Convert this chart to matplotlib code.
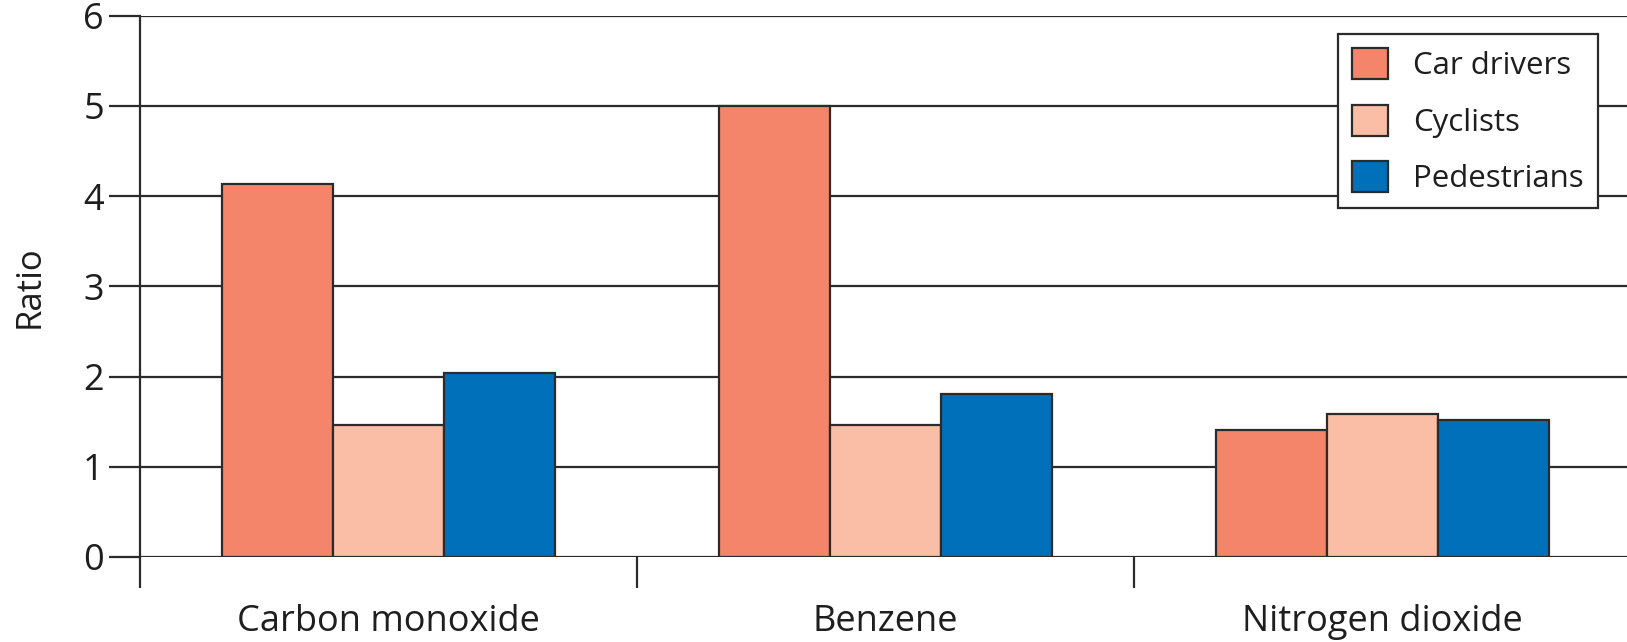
import matplotlib
matplotlib.use("Agg")
import matplotlib.pyplot as plt
import numpy as np

categories = ["Carbon monoxide", "Benzene", "Nitrogen dioxide"]
series_names = ["Car drivers", "Cyclists", "Pedestrians"]
car_drivers = [4.13, 5.0, 1.41]
cyclists = [1.46, 1.46, 1.58]
pedestrians = [2.04, 1.81, 1.52]
y_ticks = [0, 1, 2, 3, 4, 5, 6]

colors = ["#F4846A", "#FABEA6", "#0070BB"]
edge = "#2b2b2b"
txt = "#1e1e1e"

plt.rcParams['font.family'] = ['Open Sans', 'DejaVu Sans']

fig = plt.figure(figsize=(16.27, 6.42), dpi=100)
ax = fig.add_axes([140/1627, 1-557/642, (3*497)/1627, (557-15.6)/642])

x = np.arange(len(categories))
w = 0.223
for i, (vals, name) in enumerate(zip([car_drivers, cyclists, pedestrians], series_names)):
    ax.bar(x + (i-1)*w, vals, width=w, color=colors[i], edgecolor=edge,
           linewidth=1.6, label=name, zorder=3)

ax.set_xlim(-0.5, 2.5)
ax.set_ylim(0, 6)
ax.set_yticks(y_ticks)
ax.set_yticklabels([str(t) for t in y_ticks], fontsize=26, color=txt)
ax.yaxis.grid(True, color=edge, linewidth=1.6, zorder=1)
ax.set_axisbelow(True)

ax.set_xticks([-0.5, 0.5, 1.5])
ax.set_xticklabels([])
ax.set_xticks(x, minor=True)
ax.set_xticklabels(categories, minor=True, fontsize=26, color=txt)
ax.tick_params(axis='x', which='minor', length=0, pad=34)
ax.tick_params(axis='x', which='major', length=22, width=1.6, color=edge, direction='out')
ax.tick_params(axis='y', length=22, width=1.6, color=edge, direction='out', pad=4)

for s in ['top', 'right', 'bottom']:
    ax.spines[s].set_visible(False)
ax.spines['left'].set_color(edge)
ax.spines['left'].set_linewidth(1.6)

ax.set_ylabel("Ratio", fontsize=25, color=txt, labelpad=26)

leg = ax.legend(loc='upper right', bbox_to_anchor=(1598/1627, 1-34/642),
                bbox_transform=fig.transFigure, fontsize=22.5,
                frameon=True, fancybox=False, edgecolor=edge,
                handlelength=1.15, handleheight=1.15, labelspacing=0.75,
                handletextpad=0.8, borderpad=0.45, borderaxespad=0)
leg.get_frame().set_linewidth(1.6)
leg.get_frame().set_alpha(1)
for t in leg.get_texts():
    t.set_color(txt)

fig.savefig("out.png", dpi=100)
